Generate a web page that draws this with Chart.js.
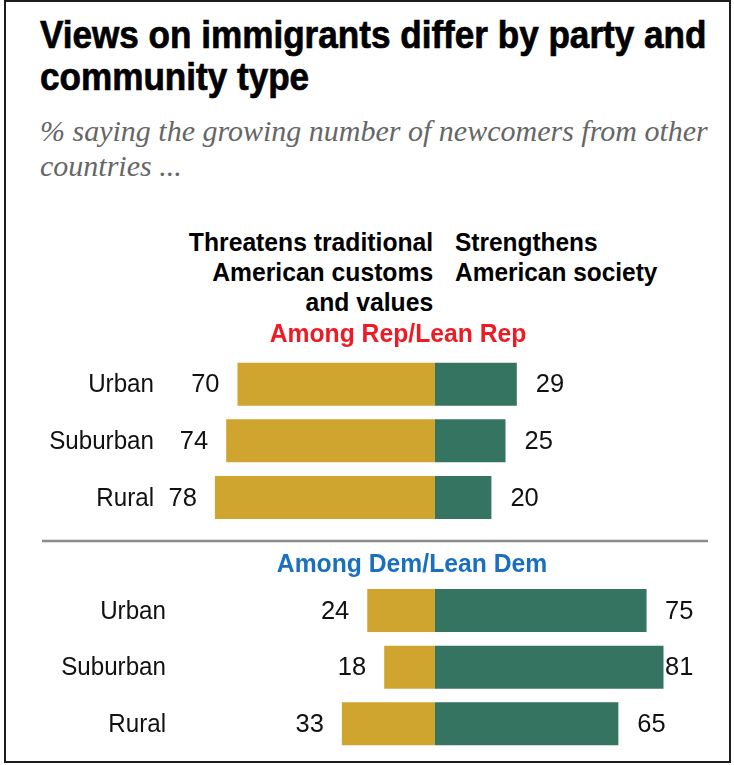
<!DOCTYPE html>
<html>
<head>
<meta charset="utf-8">
<script src="https://cdn.jsdelivr.net/npm/chart.js@4/dist/chart.umd.min.js"></script>
<style>
  html, body { margin: 0; padding: 0; background: #fff; }
  #wrap { position: relative; width: 734px; height: 765px; overflow: hidden; background: #fff; }
  #frame { position: absolute; left: 4px; top: 0; width: 727px; height: 763px;
           border: 2px solid #1c1c1c; box-sizing: border-box; pointer-events: none; }
  #chart { position: absolute; left: 0; top: 0; }
  .txt { position: absolute; white-space: nowrap; margin: 0; }
  #title { left: 40px; top: 14px; font: bold 39px "Liberation Sans", Arial, sans-serif;
           line-height: 42px; color: #000; -webkit-text-stroke: 0.7px #000;
           transform: scaleX(0.9); transform-origin: left top; }
  #subtitle { left: 40px; top: 113px; font: italic 30px "Liberation Serif", Georgia, serif;
              line-height: 35px; color: #666; }
  .colhead { top: 227px; font: bold 26px "Liberation Sans", Arial, sans-serif; line-height: 30px; color: #000; }
  #headLeft { right: 301px; text-align: right; transform: scaleX(0.95); transform-origin: right top; }
  #headRight { left: 455px; text-align: left; transform: scaleX(0.94); transform-origin: left top; }
</style>
</head>
<body>
<div id="wrap">
  <div id="title" class="txt">Views on immigrants differ by party and<br>community type</div>
  <div id="subtitle" class="txt">% saying the growing number of newcomers from other<br>countries ...</div>
  <div id="headLeft" class="txt colhead">Threatens traditional<br>American customs<br>and values</div>
  <div id="headRight" class="txt colhead">Strengthens<br>American society</div>
  <canvas id="chart" width="734" height="765"></canvas>
  <div id="frame"></div>
</div>
<script>
// Survey shares (%), by party and community type
const communities = ['Urban', 'Suburban', 'Rural'];
const partyGroups = ['Among Rep/Lean Rep', 'Among Dem/Lean Dem'];
const repThreatens = [70, 74, 78];
const repStrengthens = [29, 25, 20];
const demThreatens = [24, 18, 33];
const demStrengthens = [75, 81, 65];
const seriesNames = ['Threatens traditional American customs and values', 'Strengthens American society'];

const GOLD = '#D0A52F';
const GREEN = '#367462';
const groupColors = ['#EE1B24', '#1B6FC0'];

// Rows: three Rep rows, an empty spacer row, three Dem rows
const rowLabels = [...communities, '', ...communities];
const threatensRows = [...repThreatens.map(v => -v), null, ...demThreatens.map(v => -v)];
const strengthensRows = [...repStrengthens, null, ...demStrengthens];

const labelFont = '26px "Liberation Sans", Arial, sans-serif';
const headFont = 'bold 26px "Liberation Sans", Arial, sans-serif';

// Draw text squeezed horizontally, anchored at (x, y) with the given alignment
function squeezedText(ctx, text, x, y, align, sx) {
  ctx.save();
  ctx.translate(x, y);
  ctx.scale(sx, 1);
  ctx.textAlign = align;
  ctx.fillText(text, 0, 0);
  ctx.restore();
}

const divergingLabels = {
  id: 'divergingLabels',
  afterDatasetsDraw(chart) {
    const ctx = chart.ctx;
    const y = chart.scales.y;
    ctx.save();
    ctx.textBaseline = 'middle';

    // Category names, right-aligned per party block
    ctx.font = labelFont;
    ctx.fillStyle = '#111';
    rowLabels.forEach((lab, i) => {
      if (!lab) return;
      const right = i < 3 ? 154 : 166;
      squeezedText(ctx, lab, right, y.getPixelForValue(i) + 1, 'right', 0.93);
    });

    // Value labels at the outer end of each bar
    chart.data.datasets.forEach((ds, di) => {
      const meta = chart.getDatasetMeta(di);
      meta.data.forEach((bar, i) => {
        const v = ds.data[i];
        if (v === null) return;
        const txt = String(Math.abs(v));
        if (di === 0) {
          squeezedText(ctx, txt, bar.x - 18, bar.y + 1, 'right', 0.98);
        } else {
          squeezedText(ctx, txt, Math.min(bar.x + 19, 665), bar.y + 1, 'left', 0.98);
        }
      });
    });

    // Party headings and the separator between the blocks
    const firstRep = y.getPixelForValue(0);
    const spacer = y.getPixelForValue(3);
    ctx.font = headFont;
    ctx.fillStyle = groupColors[0];
    squeezedText(ctx, partyGroups[0], 398, firstRep - 49, 'center', 0.95);
    ctx.fillStyle = groupColors[1];
    squeezedText(ctx, partyGroups[1], 412, spacer + 11, 'center', 0.95);

    ctx.strokeStyle = '#8c8c8c';
    ctx.lineWidth = 2.5;
    ctx.beginPath();
    ctx.moveTo(42, spacer - 13);
    ctx.lineTo(708, spacer - 13);
    ctx.stroke();
    ctx.restore();
  }
};

new Chart(document.getElementById('chart'), {
  type: 'bar',
  data: {
    labels: rowLabels,
    datasets: [
      { label: seriesNames[0], data: threatensRows, backgroundColor: GOLD, borderWidth: 0,
        barPercentage: 0.76, categoryPercentage: 1 },
      { label: seriesNames[1], data: strengthensRows, backgroundColor: GREEN, borderWidth: 0,
        barPercentage: 0.76, categoryPercentage: 1 }
    ]
  },
  options: {
    indexAxis: 'y',
    responsive: false,
    animation: false,
    events: [],
    layout: { padding: { left: 40, right: 31, top: 356, bottom: 13 } },
    scales: {
      x: { type: 'linear', min: -140, max: 95, stacked: true, display: false },
      y: { stacked: true, display: false }
    },
    plugins: {
      legend: { display: false },
      tooltip: { enabled: false },
      title: { display: false }
    }
  },
  plugins: [divergingLabels]
});
</script>
</body>
</html>
